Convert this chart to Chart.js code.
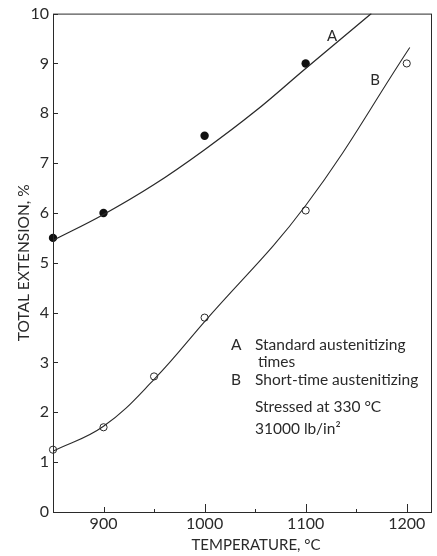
<!DOCTYPE html>
<html>
<head>
<meta charset="utf-8">
<script src="https://cdn.jsdelivr.net/npm/chart.js@4/dist/chart.umd.min.js"></script>
<style>
  body { margin: 0; background: #fff; }
  #wrap { width: 437px; height: 556px; }
</style>
</head>
<body>
<div id="wrap"><canvas id="graph"></canvas></div>
<script>
const tempA = [850, 900, 1000, 1100]
const extA = [5.5, 6.0, 7.55, 9.0]
const tempB = [850, 900, 950, 1000, 1100, 1200]
const extB = [1.25, 1.7, 2.72, 3.9, 6.05, 9.0]

// drawn (smoothed) curves
const curveTempA = [850, 900, 950, 1000, 1050, 1100, 1165]
const curveExtA = [5.45, 5.97, 6.57, 7.27, 8.04, 8.9, 10.0]
const curveTempB = [850, 900, 950, 1000, 1100, 1203]
const curveExtB = [1.22, 1.72, 2.66, 3.82, 6.15, 9.32]

const xTicks = [900, 1000, 1100, 1200]
const xMinor = [950, 1050, 1150]
const yTicks = [0, 1, 2, 3, 4, 5, 6, 7, 8, 9, 10]

const ink = '#2a2a2a'
const font = 'Lato'

const pts = (xs, ys) => xs.map((x, i) => ({x: x, y: ys[i]}))

// ticks inside the frame + the box + the notes
const extras = {
  id: 'extras',
  afterDraw(chart) {
    const c = chart.ctx
    const a = chart.chartArea
    const x = chart.scales.x, y = chart.scales.y
    c.save()
    c.strokeStyle = ink
    c.lineWidth = 1
    c.strokeRect(a.left + 0.5, a.top + 0.5, a.right - a.left - 1, a.bottom - a.top)
    c.beginPath()
    yTicks.forEach(v => {
      const py = Math.round(y.getPixelForValue(v)) + 0.5
      c.moveTo(a.left, py); c.lineTo(a.left + 5, py)
    })
    xTicks.forEach(v => {
      const px = Math.round(x.getPixelForValue(v)) + 0.5
      c.moveTo(px, a.bottom); c.lineTo(px, a.bottom - (v == 900 ? 5 : 8))
    })
    xMinor.forEach(v => {
      const px = Math.round(x.getPixelForValue(v)) + 0.5
      c.moveTo(px, a.bottom); c.lineTo(px, a.bottom - 3)
    })
    c.stroke()

    c.fillStyle = ink
    c.font = '15px ' + font
    c.textBaseline = 'alphabetic'
    c.fillText('A', x.getPixelForValue(1121), y.getPixelForValue(9.46))
    c.fillText('B', x.getPixelForValue(1164), y.getPixelForValue(8.56))

    // x axis title, sits a bit right of centre in the original
    c.textAlign = 'center'
    c.fillText('TEMPERATURE, \u00B0C', 256, 550)
    c.textAlign = 'left'

    c.font = '15.5px ' + font
    c.fillText('A', 231, 350)
    c.fillText('Standard austenitizing', 255, 350)
    c.fillText('times', 258, 367)
    c.fillText('B', 231, 385)
    c.fillText('Short-time austenitizing', 255, 385)
    c.fillText('Stressed at 330 \u00B0C', 255, 412)
    c.fillText('31000 lb/in\u00B2', 255, 434)
    c.restore()
  }
}

const ctx = document.getElementById('graph').getContext('2d')

new Chart(ctx, {
  type: 'scatter',
  data: {
    datasets: [
      {
        label: 'A curve',
        type: 'line',
        data: pts(curveTempA, curveExtA),
        borderColor: ink,
        borderWidth: 1.3,
        pointRadius: 0,
        tension: 0.4,
        fill: false
      },
      {
        label: 'B curve',
        type: 'line',
        data: pts(curveTempB, curveExtB),
        borderColor: ink,
        borderWidth: 1.1,
        pointRadius: 0,
        tension: 0.4,
        fill: false
      },
      {
        label: 'A  Standard austenitizing times',
        data: pts(tempA, extA),
        pointRadius: 4.2,
        backgroundColor: '#111',
        borderColor: '#111',
        borderWidth: 0,
        clip: false
      },
      {
        label: 'B  Short-time austenitizing',
        data: pts(tempB, extB),
        pointRadius: 3.6,
        backgroundColor: '#fff',
        borderColor: ink,
        borderWidth: 1,
        clip: false
      }
    ]
  },
  options: {
    responsive: true,
    maintainAspectRatio: false,
    animation: false,
    layout: { padding: { top: 13, right: 2 } },
    plugins: {
      legend: { display: false },
      tooltip: { enabled: false }
    },
    scales: {
      x: {
        type: 'linear',
        min: 850,
        max: 1225,
        afterBuildTicks: s => { s.ticks = xTicks.map(v => ({value: v})) },
        afterFit: s => { s.height = 44 },
        grid: { display: false, drawTicks: false },
        border: { display: false },
        ticks: {
          color: ink,
          font: { family: font, size: 16 },
          padding: 2,
          callback: v => String(v)
        }
      },
      y: {
        min: 0,
        max: 10,
        afterBuildTicks: s => { s.ticks = yTicks.map(v => ({value: v})) },
        afterFit: s => { s.width = 53 },
        grid: { display: false, drawTicks: false },
        border: { display: false },
        ticks: { color: ink, font: { family: font, size: 16 }, padding: 4 },
        title: {
          display: true,
          text: 'TOTAL EXTENSION, %',
          color: ink,
          font: { family: font, size: 15.5 },
          padding: { top: 15, bottom: 0 }
        }
      }
    }
  },
  plugins: [extras]
})
</script>
</body>
</html>
